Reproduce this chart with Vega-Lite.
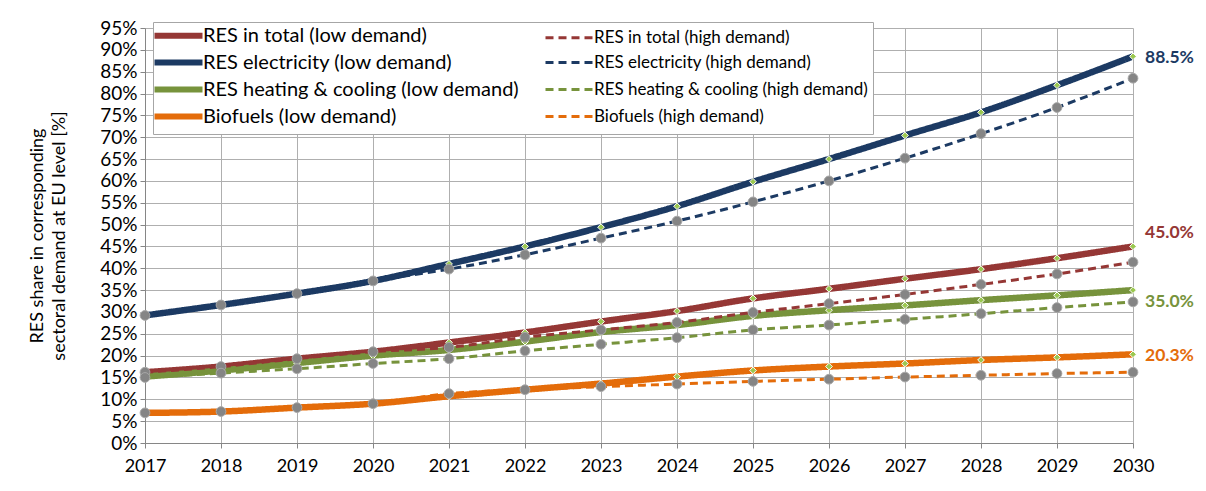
{
  "$schema": "https://vega.github.io/schema/vega-lite/v6.json",
  "autosize": "none",
  "width": 988,
  "height": 415,
  "padding": {"left": 145, "top": 28, "right": 73, "bottom": 48},
  "background": "white",
  "config": {
    "font": "Lato",
    "view": {"stroke": null},
    "axis": {"labelFont": "Lato", "titleFont": "Lato", "labelColor": "#000000", "titleColor": "#000000", "gridColor": "#AFAFAF", "gridWidth": 1, "domainColor": "#868686", "tickColor": "#868686"}
  },
  "data": {"values": [
    {"sector": "RES in total", "demand": "low", "year": 2017, "value": 16.2},
    {"sector": "RES in total", "demand": "low", "year": 2018, "value": 17.5},
    {"sector": "RES in total", "demand": "low", "year": 2019, "value": 19.3},
    {"sector": "RES in total", "demand": "low", "year": 2020, "value": 20.9},
    {"sector": "RES in total", "demand": "low", "year": 2021, "value": 23.0},
    {"sector": "RES in total", "demand": "low", "year": 2022, "value": 25.3},
    {"sector": "RES in total", "demand": "low", "year": 2023, "value": 27.8},
    {"sector": "RES in total", "demand": "low", "year": 2024, "value": 30.2},
    {"sector": "RES in total", "demand": "low", "year": 2025, "value": 33.1},
    {"sector": "RES in total", "demand": "low", "year": 2026, "value": 35.3},
    {"sector": "RES in total", "demand": "low", "year": 2027, "value": 37.6},
    {"sector": "RES in total", "demand": "low", "year": 2028, "value": 39.8},
    {"sector": "RES in total", "demand": "low", "year": 2029, "value": 42.3},
    {"sector": "RES in total", "demand": "low", "year": 2030, "value": 45.0},
    {"sector": "RES electricity", "demand": "low", "year": 2017, "value": 29.2},
    {"sector": "RES electricity", "demand": "low", "year": 2018, "value": 31.6},
    {"sector": "RES electricity", "demand": "low", "year": 2019, "value": 34.2},
    {"sector": "RES electricity", "demand": "low", "year": 2020, "value": 37.1},
    {"sector": "RES electricity", "demand": "low", "year": 2021, "value": 41.0},
    {"sector": "RES electricity", "demand": "low", "year": 2022, "value": 45.0},
    {"sector": "RES electricity", "demand": "low", "year": 2023, "value": 49.4},
    {"sector": "RES electricity", "demand": "low", "year": 2024, "value": 54.2},
    {"sector": "RES electricity", "demand": "low", "year": 2025, "value": 59.8},
    {"sector": "RES electricity", "demand": "low", "year": 2026, "value": 65.0},
    {"sector": "RES electricity", "demand": "low", "year": 2027, "value": 70.4},
    {"sector": "RES electricity", "demand": "low", "year": 2028, "value": 75.7},
    {"sector": "RES electricity", "demand": "low", "year": 2029, "value": 81.9},
    {"sector": "RES electricity", "demand": "low", "year": 2030, "value": 88.5},
    {"sector": "RES heating & cooling", "demand": "low", "year": 2017, "value": 15.2},
    {"sector": "RES heating & cooling", "demand": "low", "year": 2018, "value": 16.6},
    {"sector": "RES heating & cooling", "demand": "low", "year": 2019, "value": 18.3},
    {"sector": "RES heating & cooling", "demand": "low", "year": 2020, "value": 20.0},
    {"sector": "RES heating & cooling", "demand": "low", "year": 2021, "value": 21.3},
    {"sector": "RES heating & cooling", "demand": "low", "year": 2022, "value": 23.2},
    {"sector": "RES heating & cooling", "demand": "low", "year": 2023, "value": 25.4},
    {"sector": "RES heating & cooling", "demand": "low", "year": 2024, "value": 27.0},
    {"sector": "RES heating & cooling", "demand": "low", "year": 2025, "value": 29.1},
    {"sector": "RES heating & cooling", "demand": "low", "year": 2026, "value": 30.4},
    {"sector": "RES heating & cooling", "demand": "low", "year": 2027, "value": 31.5},
    {"sector": "RES heating & cooling", "demand": "low", "year": 2028, "value": 32.7},
    {"sector": "RES heating & cooling", "demand": "low", "year": 2029, "value": 33.8},
    {"sector": "RES heating & cooling", "demand": "low", "year": 2030, "value": 35.0},
    {"sector": "Biofuels", "demand": "low", "year": 2017, "value": 6.9},
    {"sector": "Biofuels", "demand": "low", "year": 2018, "value": 7.2},
    {"sector": "Biofuels", "demand": "low", "year": 2019, "value": 8.1},
    {"sector": "Biofuels", "demand": "low", "year": 2020, "value": 9.0},
    {"sector": "Biofuels", "demand": "low", "year": 2021, "value": 10.7},
    {"sector": "Biofuels", "demand": "low", "year": 2022, "value": 12.2},
    {"sector": "Biofuels", "demand": "low", "year": 2023, "value": 13.6},
    {"sector": "Biofuels", "demand": "low", "year": 2024, "value": 15.2},
    {"sector": "Biofuels", "demand": "low", "year": 2025, "value": 16.6},
    {"sector": "Biofuels", "demand": "low", "year": 2026, "value": 17.5},
    {"sector": "Biofuels", "demand": "low", "year": 2027, "value": 18.2},
    {"sector": "Biofuels", "demand": "low", "year": 2028, "value": 19.0},
    {"sector": "Biofuels", "demand": "low", "year": 2029, "value": 19.6},
    {"sector": "Biofuels", "demand": "low", "year": 2030, "value": 20.3},
    {"sector": "RES in total", "demand": "high", "year": 2017, "value": 16.2},
    {"sector": "RES in total", "demand": "high", "year": 2018, "value": 17.5},
    {"sector": "RES in total", "demand": "high", "year": 2019, "value": 19.3},
    {"sector": "RES in total", "demand": "high", "year": 2020, "value": 20.9},
    {"sector": "RES in total", "demand": "high", "year": 2021, "value": 21.9},
    {"sector": "RES in total", "demand": "high", "year": 2022, "value": 24.2},
    {"sector": "RES in total", "demand": "high", "year": 2023, "value": 25.9},
    {"sector": "RES in total", "demand": "high", "year": 2024, "value": 27.6},
    {"sector": "RES in total", "demand": "high", "year": 2025, "value": 29.9},
    {"sector": "RES in total", "demand": "high", "year": 2026, "value": 31.9},
    {"sector": "RES in total", "demand": "high", "year": 2027, "value": 34.0},
    {"sector": "RES in total", "demand": "high", "year": 2028, "value": 36.3},
    {"sector": "RES in total", "demand": "high", "year": 2029, "value": 38.7},
    {"sector": "RES in total", "demand": "high", "year": 2030, "value": 41.4},
    {"sector": "RES electricity", "demand": "high", "year": 2017, "value": 29.2},
    {"sector": "RES electricity", "demand": "high", "year": 2018, "value": 31.6},
    {"sector": "RES electricity", "demand": "high", "year": 2019, "value": 34.2},
    {"sector": "RES electricity", "demand": "high", "year": 2020, "value": 37.1},
    {"sector": "RES electricity", "demand": "high", "year": 2021, "value": 39.8},
    {"sector": "RES electricity", "demand": "high", "year": 2022, "value": 43.1},
    {"sector": "RES electricity", "demand": "high", "year": 2023, "value": 46.9},
    {"sector": "RES electricity", "demand": "high", "year": 2024, "value": 50.8},
    {"sector": "RES electricity", "demand": "high", "year": 2025, "value": 55.2},
    {"sector": "RES electricity", "demand": "high", "year": 2026, "value": 60.0},
    {"sector": "RES electricity", "demand": "high", "year": 2027, "value": 65.2},
    {"sector": "RES electricity", "demand": "high", "year": 2028, "value": 70.8},
    {"sector": "RES electricity", "demand": "high", "year": 2029, "value": 76.8},
    {"sector": "RES electricity", "demand": "high", "year": 2030, "value": 83.5},
    {"sector": "RES heating & cooling", "demand": "high", "year": 2017, "value": 15.0},
    {"sector": "RES heating & cooling", "demand": "high", "year": 2018, "value": 16.0},
    {"sector": "RES heating & cooling", "demand": "high", "year": 2019, "value": 17.0},
    {"sector": "RES heating & cooling", "demand": "high", "year": 2020, "value": 18.2},
    {"sector": "RES heating & cooling", "demand": "high", "year": 2021, "value": 19.3},
    {"sector": "RES heating & cooling", "demand": "high", "year": 2022, "value": 21.1},
    {"sector": "RES heating & cooling", "demand": "high", "year": 2023, "value": 22.6},
    {"sector": "RES heating & cooling", "demand": "high", "year": 2024, "value": 24.1},
    {"sector": "RES heating & cooling", "demand": "high", "year": 2025, "value": 25.9},
    {"sector": "RES heating & cooling", "demand": "high", "year": 2026, "value": 27.0},
    {"sector": "RES heating & cooling", "demand": "high", "year": 2027, "value": 28.3},
    {"sector": "RES heating & cooling", "demand": "high", "year": 2028, "value": 29.6},
    {"sector": "RES heating & cooling", "demand": "high", "year": 2029, "value": 31.0},
    {"sector": "RES heating & cooling", "demand": "high", "year": 2030, "value": 32.3},
    {"sector": "Biofuels", "demand": "high", "year": 2017, "value": 6.9},
    {"sector": "Biofuels", "demand": "high", "year": 2018, "value": 7.2},
    {"sector": "Biofuels", "demand": "high", "year": 2019, "value": 8.1},
    {"sector": "Biofuels", "demand": "high", "year": 2020, "value": 9.0},
    {"sector": "Biofuels", "demand": "high", "year": 2021, "value": 11.3},
    {"sector": "Biofuels", "demand": "high", "year": 2022, "value": 12.2},
    {"sector": "Biofuels", "demand": "high", "year": 2023, "value": 12.9},
    {"sector": "Biofuels", "demand": "high", "year": 2024, "value": 13.5},
    {"sector": "Biofuels", "demand": "high", "year": 2025, "value": 14.1},
    {"sector": "Biofuels", "demand": "high", "year": 2026, "value": 14.6},
    {"sector": "Biofuels", "demand": "high", "year": 2027, "value": 15.1},
    {"sector": "Biofuels", "demand": "high", "year": 2028, "value": 15.5},
    {"sector": "Biofuels", "demand": "high", "year": 2029, "value": 15.9},
    {"sector": "Biofuels", "demand": "high", "year": 2030, "value": 16.2}
  ]},
  "transform": [
    {"calculate": "datum.sector + ' (' + datum.demand + ' demand)'", "as": "series"}
  ],
  "encoding": {
    "x": {
      "field": "year", "type": "quantitative",
      "scale": {"domain": [2017, 2030], "nice": false, "zero": false},
      "axis": {"values": [2017, 2018, 2019, 2020, 2021, 2022, 2023, 2024, 2025, 2026, 2027, 2028, 2029, 2030], "format": "d", "title": null, "labelFontSize": 18, "labelFlush": false, "tickSize": 5, "labelPadding": 9, "grid": true}
    },
    "y": {
      "field": "value", "type": "quantitative",
      "scale": {"domain": [0, 95], "nice": false},
      "axis": {"values": [0, 5, 10, 15, 20, 25, 30, 35, 40, 45, 50, 55, 60, 65, 70, 75, 80, 85, 90, 95], "labelExpr": "datum.value + '%'", "labelFontSize": 19, "tickSize": 5, "labelPadding": 3, "grid": true, "title": ["RES share in corresponding", "sectoral demand at EU level [%]"], "titleFontSize": 18, "titleFontWeight": "normal", "titlePadding": 31, "titleLineHeight": 22}
    }
  },
  "layer": [
    {
      "transform": [{"filter": "datum.demand == 'low'"}],
      "mark": {"type": "line", "interpolate": "monotone", "strokeWidth": 6.5},
      "encoding": {
        "color": {
          "field": "series", "type": "nominal",
          "scale": {
            "domain": ["RES in total (low demand)", "RES in total (high demand)", "RES electricity (low demand)", "RES electricity (high demand)", "RES heating & cooling (low demand)", "RES heating & cooling (high demand)", "Biofuels (low demand)", "Biofuels (high demand)"],
            "range": ["#953735", "#953735", "#1C3A63", "#1C3A63", "#77933C", "#77933C", "#E46C0A", "#E46C0A"]
          },
          "legend": {
            "title": null, "orient": "none", "legendX": 8, "legendY": -6, "columns": 2, "direction": "horizontal", "gridAlign": "all",
            "symbolType": "M-1,0H3", "symbolSize": 576, "symbolStrokeWidth": 5, "labelFontSize": 20, "labelColor": "#000000", "labelOffset": 28, "labelLimit": 400,
            "columnPadding": 19, "rowPadding": 2, "padding": 5, "fillColor": "white", "strokeColor": "#A6A6A6",
            "encode": {
              "legend": {"update": {"width": {"value": 769}}},
              "labels": {"update": {"fontSize": {"signal": "test(/low/, '' + datum.value) ? 20 : 17"}}},
              "symbols": {"update": {"strokeWidth": {"signal": "test(/low/, '' + datum.value) ? 6 : 3"}}}
            }
          }
        },
        "strokeDash": {
          "field": "series", "type": "nominal",
          "scale": {
            "domain": ["RES in total (low demand)", "RES in total (high demand)", "RES electricity (low demand)", "RES electricity (high demand)", "RES heating & cooling (low demand)", "RES heating & cooling (high demand)", "Biofuels (low demand)", "Biofuels (high demand)"],
            "range": [[1, 0], [8, 5], [1, 0], [8, 5], [1, 0], [8, 5], [1, 0], [8, 5]]
          }
        }
      }
    },
    {
      "transform": [{"filter": "datum.demand == 'low'"}],
      "mark": {"type": "point", "shape": "diamond", "filled": true, "size": 45, "color": "#9BC850", "stroke": "white", "strokeWidth": 1, "opacity": 1}
    },
    {
      "transform": [{"filter": "datum.demand == 'high'"}],
      "mark": {"type": "line", "interpolate": "monotone", "strokeWidth": 3},
      "encoding": {
        "color": {"field": "series", "type": "nominal"},
        "strokeDash": {"field": "series", "type": "nominal"}
      }
    },
    {
      "transform": [{"filter": "datum.demand == 'high'"}],
      "mark": {"type": "point", "shape": "circle", "filled": true, "size": 95, "color": "#858585", "stroke": "#A8A8A8", "strokeWidth": 1, "opacity": 1}
    },
    {
      "transform": [{"filter": "datum.demand == 'low' && datum.year == 2030 && (datum.sector == 'RES electricity' || datum.sector == 'Biofuels')"}, {"calculate": "format(datum.value, '.1f') + '%'", "as": "label"}],
      "mark": {"type": "text", "align": "left", "dx": 12, "dy": 2, "fontSize": 17.5, "fontWeight": "bold"},
      "encoding": {"text": {"field": "label"}, "color": {"field": "series", "type": "nominal", "legend": null}}
    },
    {
      "transform": [{"filter": "datum.demand == 'low' && datum.year == 2030 && datum.sector == 'RES in total'"}, {"calculate": "format(datum.value, '.1f') + '%'", "as": "label"}],
      "mark": {"type": "text", "align": "left", "dx": 12, "dy": -13, "fontSize": 17.5, "fontWeight": "bold"},
      "encoding": {"text": {"field": "label"}, "color": {"field": "series", "type": "nominal", "legend": null}}
    },
    {
      "transform": [{"filter": "datum.demand == 'low' && datum.year == 2030 && datum.sector == 'RES heating & cooling'"}, {"calculate": "format(datum.value, '.1f') + '%'", "as": "label"}],
      "mark": {"type": "text", "align": "left", "dx": 12, "dy": 12, "fontSize": 17.5, "fontWeight": "bold"},
      "encoding": {"text": {"field": "label"}, "color": {"field": "series", "type": "nominal", "legend": null}}
    }
  ]
}
